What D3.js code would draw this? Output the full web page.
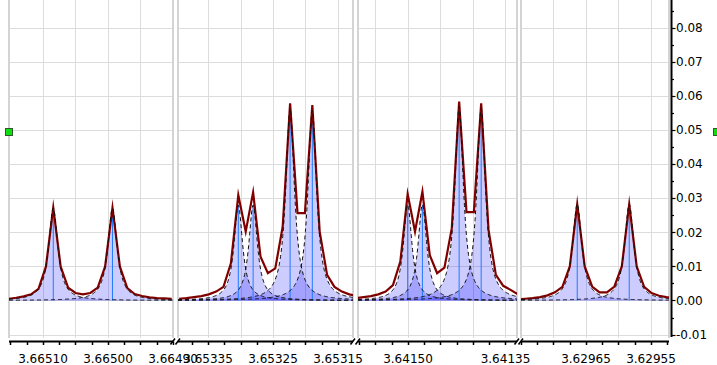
<!DOCTYPE html>
<html><head><meta charset="utf-8">
<script src="https://cdn.jsdelivr.net/npm/d3@7/dist/d3.min.js"></script>
<style>html,body{margin:0;padding:0;background:#fff;overflow:hidden}</style>
</head><body>
<svg id="chart" width="717" height="365"></svg>
<script>
// ---------------- data ----------------
const panelDomains = [[3.6651523, 3.6649000], [3.6533962, 3.6531269], [3.6415769, 3.6413323], [3.6297500, 3.6295223]];
const xTickLabels = [[3.66510, 3.66500, 3.66490], [3.65335, 3.65325, 3.65315], [3.64150, 3.64135], [3.62965, 3.62955]];
const yTickValues = [-0.01, 0.00, 0.01, 0.02, 0.03, 0.04, 0.05, 0.06, 0.07, 0.08];
const yDomain = [-0.0110, 0.0881];
const handleValue = 0.0493;

const profileX1 = [3.6651525, 3.6651411, 3.6651297, 3.6651183, 3.6651069, 3.6650955, 3.6650842, 3.6650728, 3.6650614, 3.6650500, 3.6650386, 3.6650272, 3.6650158, 3.6650045, 3.6649931, 3.6649817, 3.6649703, 3.6649589, 3.6649475, 3.6649362, 3.6649248, 3.6649134, 3.6649020];
const profileY1 = [0.0005, 0.0008, 0.0012, 0.0018, 0.0034, 0.0099, 0.0272, 0.0099, 0.0038, 0.0022, 0.0018, 0.0022, 0.0038, 0.0099, 0.0272, 0.0099, 0.0036, 0.0019, 0.0013, 0.0009, 0.0007, 0.0006, 0.0005];
const peakCenters1 = [3.6650842, 3.6649931];
const peakHeights1 = [0.0271, 0.0271];
const peakWidths1 = [8.5e-6, 8.5e-6];

const profileX2 = [3.6533945, 3.6533831, 3.6533717, 3.6533603, 3.6533489, 3.6533375, 3.6533262, 3.6533148, 3.6533034, 3.6532920, 3.6532806, 3.6532692, 3.6532579, 3.6532465, 3.6532351, 3.6532237, 3.6532123, 3.6532009, 3.6531895, 3.6531782, 3.6531668, 3.6531554, 3.6531440, 3.6531326, 3.6531212];
const profileY2 = [0.0005, 0.0007, 0.0010, 0.0013, 0.0018, 0.0026, 0.0040, 0.0109, 0.0309, 0.0202, 0.0317, 0.0128, 0.0080, 0.0094, 0.0216, 0.0578, 0.0256, 0.0256, 0.0573, 0.0202, 0.0075, 0.0040, 0.0026, 0.0018, 0.0013];
const peakCenters2 = [3.6533034, 3.6532806, 3.6532237, 3.6531895];
const peakHeights2 = [0.0280, 0.0280, 0.0564, 0.0559];
const peakWidths2 = [8.0e-6, 8.0e-6, 8.0e-6, 8.0e-6];

const profileX3 = [3.6415796, 3.6415683, 3.6415570, 3.6415457, 3.6415344, 3.6415231, 3.6415118, 3.6415005, 3.6414892, 3.6414778, 3.6414665, 3.6414552, 3.6414439, 3.6414326, 3.6414213, 3.6414100, 3.6413987, 3.6413874, 3.6413761, 3.6413648, 3.6413535, 3.6413422, 3.6413308];
const profileY3 = [0.0007, 0.0010, 0.0013, 0.0018, 0.0026, 0.0045, 0.0114, 0.0312, 0.0202, 0.0319, 0.0133, 0.0080, 0.0096, 0.0212, 0.0583, 0.0259, 0.0259, 0.0578, 0.0207, 0.0075, 0.0043, 0.0031, 0.0018];
const peakCenters3 = [3.6415005, 3.6414778, 3.6414213, 3.6413874];
const peakHeights3 = [0.0281, 0.0281, 0.0568, 0.0563];
const peakWidths3 = [8.0e-6, 8.0e-6, 8.0e-6, 8.0e-6];

const profileX4 = [3.6297549, 3.6297435, 3.6297321, 3.6297206, 3.6297092, 3.6296978, 3.6296863, 3.6296749, 3.6296635, 3.6296520, 3.6296406, 3.6296292, 3.6296178, 3.6296063, 3.6295949, 3.6295835, 3.6295720, 3.6295606, 3.6295492, 3.6295377, 3.6295263, 3.6295149];
const profileY4 = [0.0003, 0.0005, 0.0007, 0.0010, 0.0015, 0.0024, 0.0040, 0.0100, 0.0282, 0.0100, 0.0041, 0.0024, 0.0024, 0.0041, 0.0100, 0.0282, 0.0100, 0.0040, 0.0022, 0.0014, 0.0010, 0.0007];
const peakCenters4 = [3.6296635, 3.6295835];
const peakHeights4 = [0.0283, 0.0283];
const peakWidths4 = [8.5e-6, 8.5e-6];

const panels = [
  {domain: panelDomains[0], labels: xTickLabels[0], px: profileX1, py: profileY1, c: peakCenters1, h: peakHeights1, w: peakWidths1},
  {domain: panelDomains[1], labels: xTickLabels[1], px: profileX2, py: profileY2, c: peakCenters2, h: peakHeights2, w: peakWidths2},
  {domain: panelDomains[2], labels: xTickLabels[2], px: profileX3, py: profileY3, c: peakCenters3, h: peakHeights3, w: peakWidths3},
  {domain: panelDomains[3], labels: xTickLabels[3], px: profileX4, py: profileY4, c: peakCenters4, h: peakHeights4, w: peakWidths4}
];

// ---------------- layout ----------------
const panelPixels = [[9, 173], [178, 353], [358, 517], [521, 669]];
const plotTop = 0, plotBottom = 338, axisY = 341.5, yAxisX = 671.5;
const FONT = "DejaVu Sans, Verdana, sans-serif";
const gridStep = 0.00005, minorStep = 0.000025;

const svg = d3.select("#chart");
const y = d3.scaleLinear().domain(yDomain).range([plotBottom, plotTop]);

function stepsIn(domain, step) {
  const lo = Math.min(domain[0], domain[1]), hi = Math.max(domain[0], domain[1]);
  const out = [];
  for (let k = Math.ceil(lo / step - 1e-6); k <= Math.floor(hi / step + 1e-6); k++) out.push(k * step);
  return out;
}

const defs = svg.append("defs");

panels.forEach((p, i) => {
  const [x0, x1] = panelPixels[i];
  const x = d3.scaleLinear().domain(p.domain).range([x0, x1]);
  const g = svg.append("g");
  const clipId = "clip" + i;
  defs.append("clipPath").attr("id", clipId).append("rect")
    .attr("x", x0).attr("y", plotTop).attr("width", x1 - x0).attr("height", plotBottom - plotTop);

  // grid
  const grid = g.append("g").attr("stroke", "#dcdcdc").attr("stroke-width", 1);
  yTickValues.forEach(v => {
    grid.append("line").attr("x1", x0).attr("x2", x1)
      .attr("y1", Math.round(y(v)) + 0.5).attr("y2", Math.round(y(v)) + 0.5);
  });
  stepsIn(p.domain, gridStep).forEach(v => {
    const xx = Math.round(x(v)) + 0.5;
    if (xx > x0 + 2 && xx < x1 - 2)
      grid.append("line").attr("x1", xx).attr("x2", xx).attr("y1", plotTop).attr("y2", plotBottom);
  });
  // panel borders
  g.append("g").attr("stroke", "#d4d4d4").attr("stroke-width", 2)
    .selectAll("line").data([x0, x1]).join("line")
    .attr("x1", d => d).attr("x2", d => d).attr("y1", plotTop).attr("y2", plotBottom);

  const plot = g.append("g").attr("clip-path", `url(#${clipId})`);

  // component curves
  const comps = p.c.map((c, k) => {
    const n = 240;
    return d3.range(n).map(j => {
      const xv = p.domain[0] + (p.domain[1] - p.domain[0]) * j / (n - 1);
      const t = (xv - c) / p.w[k];
      return [xv, p.h[k] / (1 + t * t)];
    });
  });
  const area = d3.area().x(d => x(d[0])).y0(y(0)).y1(d => y(d[1]));
  const line = d3.line().x(d => x(d[0])).y(d => y(d[1]));

  plot.selectAll("path.fill").data(comps).join("path").attr("class", "fill")
    .attr("d", area).attr("fill", "rgba(0,0,255,0.2)").attr("stroke", "none");

  // peak position lines
  plot.selectAll("line.peak").data(p.c.map((c, k) => [c, p.h[k]])).join("line").attr("class", "peak")
    .attr("x1", d => x(d[0])).attr("x2", d => x(d[0]))
    .attr("y1", y(0)).attr("y2", d => y(d[1]))
    .attr("stroke", "#1f7bff").attr("stroke-width", 1);

  // measured profile
  const prof = p.px.map((v, k) => [v, p.py[k]]);
  plot.append("path").datum(prof).attr("d", line)
    .attr("fill", "none").attr("stroke", "#800000").attr("stroke-width", 2.2)
    .attr("stroke-linejoin", "miter").attr("stroke-miterlimit", 10);

  // dashed components
  plot.selectAll("path.comp").data(comps).join("path").attr("class", "comp")
    .attr("d", line).attr("fill", "none").attr("stroke", "#111")
    .attr("stroke-width", 1).attr("stroke-dasharray", "4,3");

  // bottom axis
  const ax = svg.append("g");
  ax.append("line").attr("x1", x0).attr("x2", x1).attr("y1", axisY).attr("y2", axisY)
    .attr("stroke", "#000").attr("stroke-width", 2);
  stepsIn(p.domain, minorStep).forEach(v => {
    const xx = Math.round(x(v)) + 0.5;
    ax.append("line").attr("x1", xx).attr("x2", xx).attr("y1", axisY).attr("y2", axisY + 3.5)
      .attr("stroke", "#000").attr("stroke-width", 1.5);
  });
  p.labels.forEach(v => {
    ax.append("text").attr("x", x(v)).attr("y", 363).attr("text-anchor", "middle")
      .attr("font-family", FONT).attr("font-size", 12).attr("fill", "#000")
      .text(d3.format(".5f")(v));
  });
  // break marks
  const breaks = [];
  if (i > 0) breaks.push(x0);
  if (i < panels.length - 1) breaks.push(x1);
  breaks.forEach(bx => {
    ax.append("line").attr("x1", bx - 2.5).attr("x2", bx + 2).attr("y1", axisY + 3).attr("y2", axisY - 3)
      .attr("stroke", "#000").attr("stroke-width", 1.5);
  });
});

// right y axis
const ya = svg.append("g");
ya.append("line").attr("x1", yAxisX).attr("x2", yAxisX).attr("y1", 0).attr("y2", 337)
  .attr("stroke", "#000").attr("stroke-width", 2);
yTickValues.forEach(v => {
  const yy = Math.round(y(v)) + 0.5;
  ya.append("line").attr("x1", yAxisX).attr("x2", yAxisX + 4).attr("y1", yy).attr("y2", yy)
    .attr("stroke", "#000").attr("stroke-width", 1.2);
  ya.append("text").attr("x", 676).attr("y", y(v)).attr("dy", "0.36em")
    .attr("font-family", FONT).attr("font-size", 12).attr("fill", "#000")
    .text(d3.format(".2f")(v).replace("−", "-"));
});
yTickValues.slice(0, -1).forEach(v => {
  const yy = Math.round(y(v + 0.005)) + 0.5;
  ya.append("line").attr("x1", yAxisX).attr("x2", yAxisX + 2.5).attr("y1", yy).attr("y2", yy)
    .attr("stroke", "#000").attr("stroke-width", 1.2);
});
{
  const yy = Math.round(y(0.085)) + 0.5;
  ya.append("line").attr("x1", yAxisX).attr("x2", yAxisX + 2.5).attr("y1", yy).attr("y2", yy)
    .attr("stroke", "#000").attr("stroke-width", 1.2);
}

// handles
[5, 713].forEach(hx => {
  svg.append("rect").attr("x", hx + 0.5).attr("y", Math.round(y(handleValue)) - 3.5)
    .attr("width", 7).attr("height", 7)
    .attr("fill", "#11dd11").attr("stroke", "#2d5a2d").attr("stroke-width", 1);
});
</script>
</body></html>
